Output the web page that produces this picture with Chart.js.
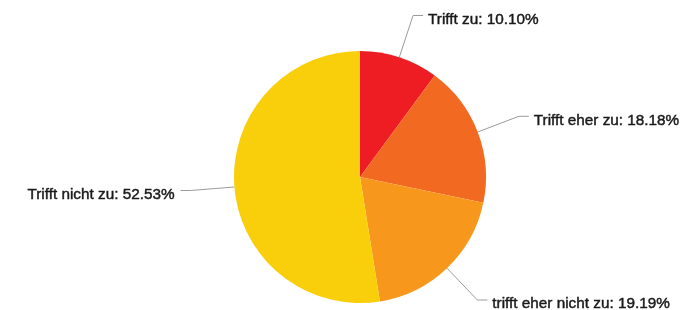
<!DOCTYPE html>
<html>
<head>
<meta charset="utf-8">
<script src="https://cdn.jsdelivr.net/npm/chart.js@4/dist/chart.umd.min.js"></script>
<style>
html,body{margin:0;padding:0;background:#fff;}
#wrap{width:690px;height:310px;position:relative;}
</style>
</head>
<body>
<div id="wrap"><canvas id="c" width="690" height="310"></canvas></div>
<script>
const categories = ["Trifft zu", "Trifft eher zu", "trifft eher nicht zu", "Trifft nicht zu"];
const values = [10.10, 18.18, 19.19, 52.53];
const colors = ["#EE1D24", "#F26A21", "#F7981D", "#F9CF0C"];

const leaderPlugin = {
  id: 'leaders',
  afterDatasetsDraw(chart) {
    const ctx = chart.ctx;
    const meta = chart.getDatasetMeta(0);
    ctx.save();
    ctx.font = '15.3px "Liberation Sans", Arial, sans-serif';
    ctx.textBaseline = 'middle';
    meta.data.forEach((arc, i) => {
      const p = arc.getProps(['x','y','startAngle','endAngle','outerRadius'], true);
      const mid = (p.startAngle + p.endAngle) / 2;
      const cos = Math.cos(mid), sin = Math.sin(mid);
      const x0 = p.x + cos * p.outerRadius;
      const y0 = p.y + sin * p.outerRadius;
      const x1 = p.x + cos * (p.outerRadius + 44);
      const y1 = p.y + sin * (p.outerRadius + 44);
      const right = cos >= 0;
      const x2 = x1 + (right ? 10 : -10);
      ctx.strokeStyle = '#9a9a9a';
      ctx.lineWidth = 1;
      ctx.beginPath();
      ctx.moveTo(x0, y0);
      ctx.lineTo(x1, y1);
      ctx.lineTo(x2, y1);
      ctx.stroke();
      ctx.fillStyle = '#1a1a1a';
      ctx.strokeStyle = '#1a1a1a';
      ctx.lineWidth = 0.45;
      ctx.textAlign = right ? 'left' : 'right';
      const txt = categories[i] + ': ' + values[i].toFixed(2) + '%';
      const tx = x2 + (right ? 5 : -6);
      const ty = y1 + 4;
      ctx.fillText(txt, tx, ty);
      ctx.strokeText(txt, tx, ty);
    });
    ctx.restore();
  }
};

new Chart(document.getElementById('c'), {
  type: 'pie',
  data: {
    labels: categories,
    datasets: [{
      data: values,
      backgroundColor: colors,
      borderWidth: 0
    }]
  },
  options: {
    responsive: false,
    animation: false,
    layout: { padding: { top: 51, bottom: 7, left: 130, right: 100 } },
    plugins: { legend: { display: false }, tooltip: { enabled: false } }
  },
  plugins: [leaderPlugin]
});
</script>
</body>
</html>
